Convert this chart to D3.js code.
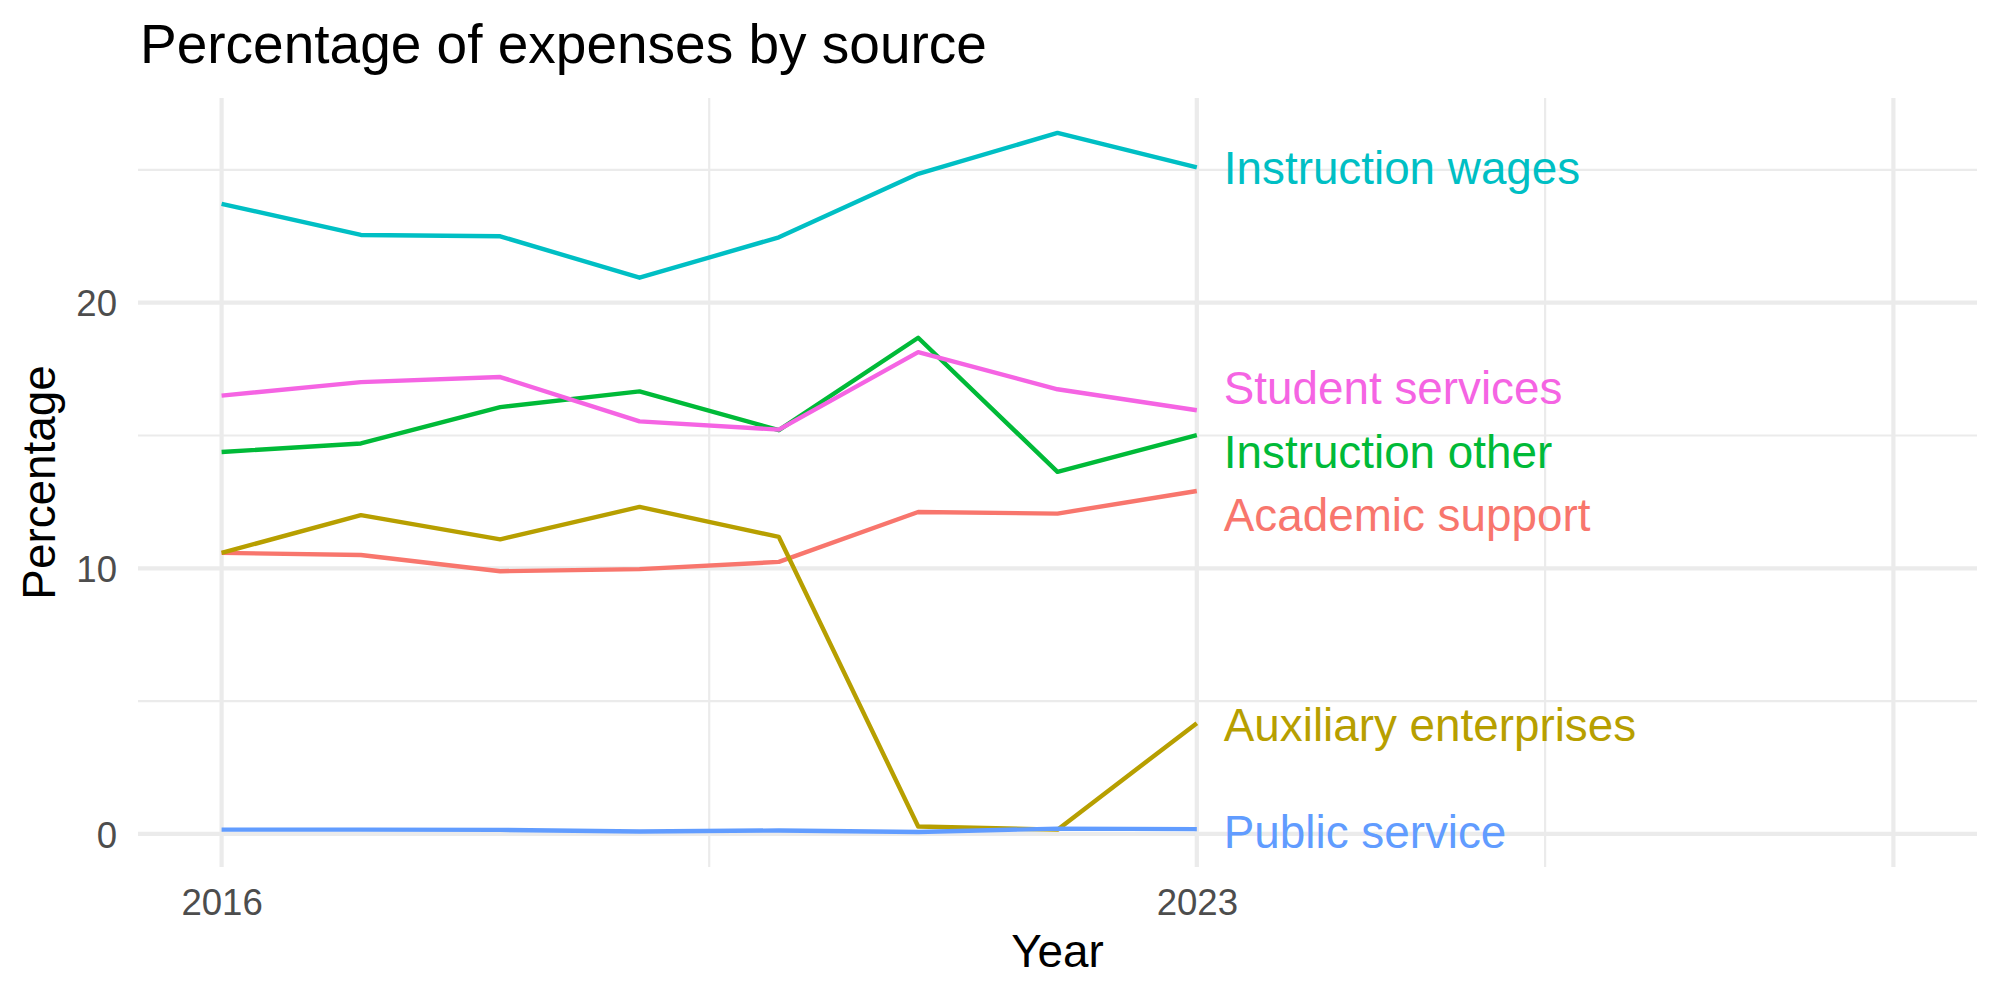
<!DOCTYPE html>
<html>
<head>
<meta charset="utf-8">
<script src="https://cdn.jsdelivr.net/npm/d3@7"></script>
<style>
	body { margin: 0; background: #fff; }
	svg { display: block; font-family: 'Liberation Sans', Arial, sans-serif; }
</style>
</head>
<body>
<svg id="chart" width="2000" height="1000"></svg>
<script>
const years = [2016, 2017, 2018, 2019, 2020, 2021, 2022, 2023];
const sources = [
	'Academic support',
	'Auxiliary enterprises',
	'Instruction other',
	'Instruction wages',
	'Public service',
	'Student services',
];
const academicSupport = [10.58, 10.50, 9.89, 9.97, 10.24, 12.12, 12.06, 12.91];
const auxiliaryEnterprises = [10.58, 12.00, 11.09, 12.31, 11.18, 0.28, 0.16, 4.17];
const instructionOther = [14.38, 14.70, 16.07, 16.66, 15.20, 18.68, 13.63, 15.01];
const instructionWages = [23.72, 22.55, 22.50, 20.94, 22.46, 24.85, 26.39, 25.09];
const publicService = [0.16, 0.16, 0.15, 0.09, 0.13, 0.07, 0.20, 0.18];
const studentServices = [16.50, 17.01, 17.20, 15.53, 15.22, 18.14, 16.74, 15.95];
// where the repelled end labels landed
const labelValues = [12.01, 4.10, 14.39, 25.09, 0.09, 16.80];
const colors = ['#F8766D', '#B79F00', '#00BA38', '#00BFC4', '#619CFF', '#F564E3'];

const xMajor = [2016, 2023, 2028];
const xLabels = ['2016', '2023', ''];
const xMinor = [2019.5, 2025.5];
const yMajor = [0, 10, 20];
const yMinor = [5, 15, 25];

const values = [academicSupport, auxiliaryEnterprises, instructionOther, instructionWages, publicService, studentServices];
const series = sources.map((name, i) => ({
	name: name,
	color: colors[i],
	label: labelValues[i],
	points: years.map((year, j) => ({year: year, value: values[i][j]})),
}));

const panel = {left: 138, right: 1977, top: 98, bottom: 867};
const grey92 = '#EBEBEB';

const expand = (lo, hi) => [lo - (hi - lo) * 0.05, hi + (hi - lo) * 0.05];
const allValues = values.flat();

const x = d3.scaleLinear()
	.domain(expand(2016, 2028))
	.range([panel.left, panel.right]);
const y = d3.scaleLinear()
	.domain(expand(d3.min(allValues), d3.max(allValues)))
	.range([panel.bottom, panel.top]);

const svg = d3.select('#chart');
svg.append('rect').attr('width', 2000).attr('height', 1000).attr('fill', '#fff');

const grid = svg.append('g').classed('grid', true);
grid.selectAll('line.ymin')
	.data(yMinor)
	.join('line')
	.attr('x1', panel.left).attr('x2', panel.right)
	.attr('y1', d => y(d)).attr('y2', d => y(d))
	.attr('stroke', grey92).attr('stroke-width', 2.2);
grid.selectAll('line.xmin')
	.data(xMinor)
	.join('line')
	.attr('y1', panel.top).attr('y2', panel.bottom)
	.attr('x1', d => x(d)).attr('x2', d => x(d))
	.attr('stroke', grey92).attr('stroke-width', 2.2);
grid.selectAll('line.ymaj')
	.data(yMajor, d => 'y' + d)
	.enter().append('line')
	.attr('x1', panel.left).attr('x2', panel.right)
	.attr('y1', d => y(d)).attr('y2', d => y(d))
	.attr('stroke', grey92).attr('stroke-width', 4.2);
grid.selectAll('line.xmaj')
	.data(xMajor, d => 'x' + d)
	.enter().append('line')
	.attr('y1', panel.top).attr('y2', panel.bottom)
	.attr('x1', d => x(d)).attr('x2', d => x(d))
	.attr('stroke', grey92).attr('stroke-width', 4.2);

// axes (ggplot minimal: text only, no lines)
const xAxis = d3.axisBottom(x)
	.tickValues(xMajor)
	.tickFormat((d, i) => xLabels[i])
	.tickSize(0)
	.tickPadding(0);
svg.append('g')
	.attr('transform', `translate(0, ${panel.bottom})`)
	.call(xAxis)
	.call(g => g.select('.domain').remove())
	.call(g => g.selectAll('text')
		.attr('dy', null)
		.attr('y', 48)
		.attr('fill', '#4D4D4D')
		.attr('font-size', 36.6)
		.attr('font-family', 'Liberation Sans, Arial, sans-serif'));

const yAxis = d3.axisLeft(y)
	.tickValues(yMajor)
	.tickFormat(d3.format('d'))
	.tickSize(0)
	.tickPadding(0);
svg.append('g')
	.attr('transform', `translate(${panel.left - 21}, 0)`)
	.call(yAxis)
	.call(g => g.select('.domain').remove())
	.call(g => g.selectAll('text')
		.attr('dy', '0.36em')
		.attr('x', 0)
		.attr('fill', '#4D4D4D')
		.attr('font-size', 36.6)
		.attr('font-family', 'Liberation Sans, Arial, sans-serif'));

const line = d3.line()
	.x(d => x(d.year))
	.y(d => y(d.value));

svg.append('g').classed('lines', true)
	.selectAll('path')
	.data(series)
	.join('path')
	.attr('d', d => line(d.points))
	.attr('fill', 'none')
	.attr('stroke', d => d.color)
	.attr('stroke-width', 4.4)
	.attr('stroke-linejoin', 'round');

svg.append('g').classed('labels', true)
	.selectAll('text')
	.data(series)
	.join('text')
	.attr('x', x(d3.max(years)) + 27)
	.attr('y', d => y(d.label))
	.attr('dy', '0.36em')
	.attr('fill', d => d.color)
	.attr('font-size', 45.8)
	.text(d => d.name);

svg.append('text')
	.attr('x', 140)
	.attr('y', 63)
	.attr('font-size', 55)
	.attr('fill', '#000')
	.text('Percentage of expenses by source');

svg.append('text')
	.attr('x', (panel.left + panel.right) / 2)
	.attr('y', 967)
	.attr('text-anchor', 'middle')
	.attr('font-size', 45.8)
	.attr('fill', '#000')
	.text('Year');

svg.append('text')
	.attr('transform', `translate(55, ${(panel.top + panel.bottom) / 2}) rotate(-90)`)
	.attr('text-anchor', 'middle')
	.attr('font-size', 45.8)
	.attr('fill', '#000')
	.text('Percentage');
</script>
</body>
</html>
